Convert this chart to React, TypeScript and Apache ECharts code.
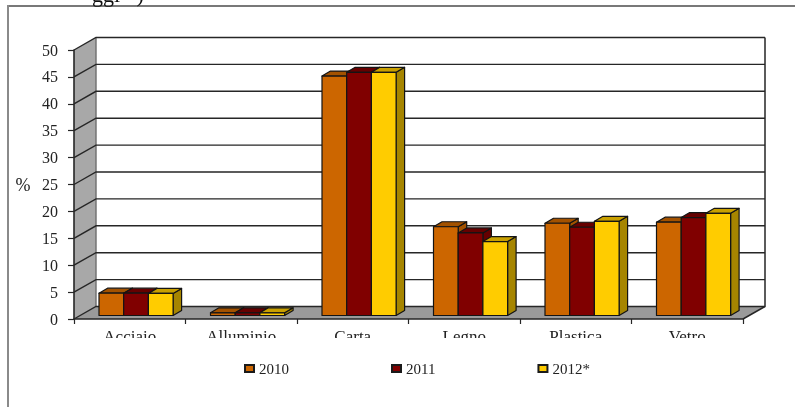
import React, { useEffect, useRef } from "react";
import * as echarts from "echarts";

const categories = ["Acciaio", "Alluminio", "Carta", "Legno", "Plastica", "Vetro"];
const values2010 = [4.15, 0.5, 44.5, 16.5, 17.15, 17.35];
const values2011 = [4.15, 0.5, 45.2, 15.35, 16.4, 18.2];
const values2012 = [4.1, 0.5, 45.2, 13.75, 17.5, 19.0];
const yTicks = [0, 5, 10, 15, 20, 25, 30, 35, 40, 45, 50];

const FONT = '"Liberation Serif", serif';
const TEXT = "#222222";
const LINE = "#262626";
const WALL_DX = 22;
const WALL_DY = -12.5;
const BAR_DX = 8.5;
const BAR_DY = -5;
const BAR_W = 24.7;
const BAR_LEFT = 25;
const BAR_BASE = -3.5;

const barSeries = (name: string, values: number[], index: number, front: string, top: string, side: string) => ({
  type: "custom",
  name,
  z: 5 + index,
  itemStyle: { color: front, borderColor: "#1a1a1a", borderWidth: 1 },
  encode: { x: 0, y: 1 },
  data: values.map((v, i) => [i, v]),
  renderItem: (params: any, api: any) => {
    const cat = api.value(0);
    const [cx] = api.coord([cat, 0]);
    const band = api.size([1, 0])[0];
    const x = cx - band / 2 + BAR_LEFT + index * BAR_W;
    const y0 = api.coord([cat, 0])[1] + BAR_BASE;
    const h = api.coord([cat, 0])[1] - api.coord([cat, api.value(1)])[1];
    const y1 = y0 - h;
    const stroke = { stroke: "#141414", lineWidth: 1.2, lineJoin: "round" };
    return {
      type: "group",
      children: [
        {
          type: "polygon",
          shape: { points: [[x + BAR_W, y0], [x + BAR_W + BAR_DX, y0 + BAR_DY], [x + BAR_W + BAR_DX, y1 + BAR_DY], [x + BAR_W, y1]] },
          style: { fill: side, ...stroke },
        },
        {
          type: "polygon",
          shape: { points: [[x, y1], [x + BAR_DX, y1 + BAR_DY], [x + BAR_W + BAR_DX, y1 + BAR_DY], [x + BAR_W, y1]] },
          style: { fill: top, ...stroke },
        },
        {
          type: "rect",
          shape: { x, y: y1, width: BAR_W, height: h },
          style: { fill: front, ...stroke },
        },
      ],
    };
  },
});

const wallSeries = {
  type: "custom",
  name: "wall",
  z: 1,
  silent: true,
  encode: { x: 0, y: 1 },
  data: yTicks.map((t) => [0, t]),
  renderItem: (params: any, api: any) => {
    const cs = params.coordSys;
    const left = cs.x;
    const right = cs.x + cs.width;
    const bottom = cs.y + cs.height;
    const topY = cs.y;
    const y = api.coord([0, api.value(1)])[1];
    const children: any[] = [];
    if (params.dataIndex === 0) {
      children.push(
        {
          type: "polygon",
          shape: { points: [[left, bottom], [left + WALL_DX, bottom + WALL_DY], [left + WALL_DX, topY + WALL_DY], [left, topY]] },
          style: { fill: "#a8a8a8", stroke: "none" },
        },
        {
          type: "polygon",
          shape: { points: [[left, bottom], [right, bottom], [right + WALL_DX, bottom + WALL_DY], [left + WALL_DX, bottom + WALL_DY]] },
          style: { fill: "#9a9a9a", stroke: "none" },
        },
        {
          type: "polyline",
          shape: { points: [[left + WALL_DX, bottom + WALL_DY], [left + WALL_DX, topY + WALL_DY]] },
          style: { stroke: "#6e6e6e", lineWidth: 1.4, fill: "none" },
        },
        {
          type: "polyline",
          shape: { points: [[right + WALL_DX, topY + WALL_DY], [right + WALL_DX, bottom + WALL_DY], [right, bottom]] },
          style: { stroke: LINE, lineWidth: 1.5, fill: "none" },
        },
      );
    }
    children.push({
      type: "polyline",
      shape: { points: [[left, y], [left + WALL_DX, y + WALL_DY], [right + WALL_DX, y + WALL_DY]] },
      style: { stroke: LINE, lineWidth: 1.4, fill: "none" },
    });
    return { type: "group", children };
  },
};

export default function App() {
  const ref = useRef<HTMLDivElement>(null);
  useEffect(() => {
    document.body.style.margin = "0";
    const chart = echarts.init(ref.current!, undefined, { renderer: "svg" });
    chart.setOption({
      animation: false,
      backgroundColor: "#ffffff",
      grid: { left: 74, right: 52, top: 50, bottom: 88 },
      legend: {
        data: ["2010", "2011", "2012*"],
        left: 239,
        top: 356,
        icon: "rect",
        itemWidth: 9,
        itemHeight: 7,
        itemGap: 102,
        textStyle: { fontFamily: FONT, fontSize: 15, color: TEXT },
      },
      xAxis: {
        type: "category",
        data: categories,
        boundaryGap: true,
        z: 8,
        axisLine: { show: true, lineStyle: { color: LINE, width: 1.5 } },
        axisTick: { show: true, length: 5, alignWithLabel: false, lineStyle: { color: LINE, width: 1.2 } },
        axisLabel: { fontFamily: FONT, fontSize: 17, color: TEXT, margin: 9 },
        splitLine: { show: false },
      },
      yAxis: {
        type: "value",
        min: 0,
        max: 50,
        interval: 5,
        z: 8,
        name: "%",
        nameLocation: "middle",
        nameRotate: 0,
        nameGap: 43.5,
        nameTextStyle: { fontFamily: FONT, fontSize: 18, color: TEXT, padding: [0, 0, 5, 0] },
        axisLine: { show: true, lineStyle: { color: LINE, width: 1.6 } },
        axisTick: { show: true, length: 6, lineStyle: { color: LINE, width: 1.2 } },
        axisLabel: { fontFamily: FONT, fontSize: 16, color: TEXT, margin: 16 },
        splitLine: { show: false },
      },
      series: [
        wallSeries,
        barSeries("2010", values2010, 0, "#cc6600", "#a35200", "#a35200"),
        barSeries("2011", values2011, 1, "#800000", "#660000", "#660000"),
        barSeries("2012*", values2012, 2, "#ffcc00", "#c9a000", "#a68500"),
      ],
      graphic: [
        { type: "rect", z: 100, shape: { x: 60, y: 338, width: 700, height: 16 }, style: { fill: "#ffffff" } },
        { type: "rect", z: 100, shape: { x: 7, y: 5, width: 788, height: 2 }, style: { fill: "#787878" } },
        { type: "rect", z: 100, shape: { x: 7, y: 5, width: 2, height: 402 }, style: { fill: "#8a8a8a" } },
        {
          type: "text",
          z: 100,
          x: 92,
          y: 5,
          style: { text: "ggi   )", font: `22px ${FONT}`, fill: "#111111", verticalAlign: "bottom" },
        },
      ],
    });
    return () => chart.dispose();
  }, []);
  return <div ref={ref} style={{ width: 795, height: 407, filter: "blur(0.45px)" }} />;
}
